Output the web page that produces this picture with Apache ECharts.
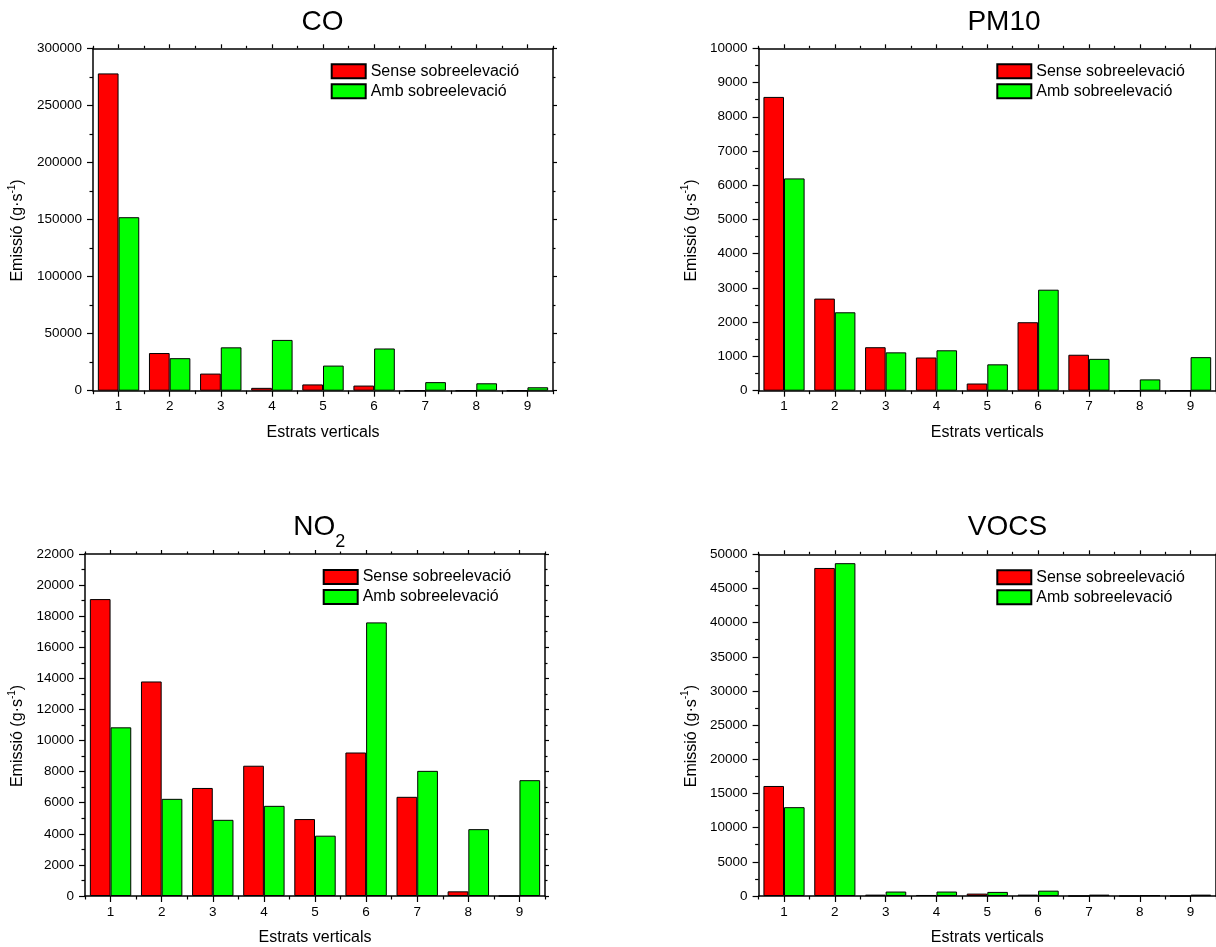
<!DOCTYPE html>
<html><head><meta charset="utf-8">
<script src="https://cdn.jsdelivr.net/npm/echarts@6/dist/echarts.min.js"></script>
<style>html,body{margin:0;padding:0;background:#fff}#c{width:1216px;height:947px}</style>
</head><body><div id="c"></div>
<script>
// ---- data ----
const categories = ['1', '2', '3', '4', '5', '6', '7', '8', '9'];
const seriesNames = ['Sense sobreelevació', 'Amb sobreelevació'];
const xAxisTitle = 'Estrats verticals';

const coSense   = [278000, 33000, 15000, 2500, 5500, 4500, 0, 0, 0];
const coAmb     = [152000, 28500, 38000, 44500, 22000, 37000, 7500, 6500, 3000];
const pm10Sense = [8580, 2690, 1270, 970, 210, 2000, 1050, 0, 0];
const pm10Amb   = [6200, 2290, 1120, 1180, 770, 2950, 930, 330, 980];
const no2Sense  = [19100, 13800, 6950, 8380, 4950, 9230, 6380, 300, 0];
const no2Amb    = [10850, 6250, 4900, 5800, 3880, 17600, 8050, 4300, 7450];
const vocsSense = [16100, 48000, 200, 150, 350, 200, 0, 0, 0];
const vocsAmb   = [13000, 48700, 650, 650, 600, 780, 200, 100, 200];

// y axis ranges [min, max, interval]
const coY   = [0, 300000, 50000];
const pm10Y = [0, 10000, 1000];
const no2Y  = [0, 22000, 2000];
const vocsY = [0, 50000, 5000];

// ---- layout / style ----
const FONT = '"Liberation Sans", Arial, sans-serif';
const BLACK = '#000';
const panels = [
  {title: 'CO',          sense: coSense,   amb: coAmb,   y: coY,   g: [93, 48.3, 460, 342.4],    tx: 322.5,  ty: 7,   nameGap: 64},
  {title: 'PM10',        sense: pm10Sense, amb: pm10Amb, y: pm10Y, g: [758.6, 48.3, 460, 342.4], tx: 1004,   ty: 7,   nameGap: 56},
  {title: '{n|NO}{s|2}', sense: no2Sense,  amb: no2Amb,  y: no2Y,  g: [85, 554, 460, 342.7],     tx: 319.3,  ty: 504, nameGap: 56, rich: true},
  {title: 'VOCS',        sense: vocsSense, amb: vocsAmb, y: vocsY, g: [758.6, 554.3, 460, 342.4], tx: 1007.5, ty: 512, nameGap: 56}
];

const option = {
  animation: false,
  backgroundColor: '#fff',
  textStyle: {fontFamily: FONT},
  title: [], grid: [], xAxis: [], yAxis: [], legend: [], series: []
};

const lineStyle = {color: BLACK, width: 1.5};
const tickStyle = {color: BLACK, width: 1.2};

panels.forEach((p, i) => {
  option.grid.push({left: p.g[0], top: p.g[1], width: p.g[2], height: p.g[3], containLabel: false});

  const t = {
    text: p.title, left: p.tx, top: p.ty, textAlign: 'center', padding: 0,
    textStyle: {fontFamily: FONT, fontSize: 28, fontWeight: 'normal', color: BLACK, lineHeight: 31}
  };
  if (p.rich) {
    t.textStyle.rich = {
      n: {fontFamily: FONT, fontSize: 28, lineHeight: 47, color: BLACK},
      s: {fontFamily: FONT, fontSize: 18, lineHeight: 18, verticalAlign: 'bottom', color: BLACK}
    };
  }
  option.title.push(t);

  const xb = option.xAxis.length;
  option.xAxis.push({
    gridIndex: i, type: 'category', data: categories, position: 'bottom',
    axisLine: {show: true, lineStyle},
    axisTick: {show: true, alignWithLabel: true, interval: 0, length: 6, lineStyle: tickStyle},
    axisLabel: {show: true, interval: 0, fontSize: 13.5, margin: 9, color: BLACK, fontFamily: FONT},
    splitLine: {show: false},
    name: xAxisTitle, nameLocation: 'middle', nameGap: 34,
    nameTextStyle: {fontSize: 16, color: BLACK, fontFamily: FONT}
  });
  option.xAxis.push({
    gridIndex: i, type: 'category', data: categories, position: 'bottom',
    axisLine: {show: false},
    axisTick: {show: true, alignWithLabel: false, interval: 0, length: 3.5, lineStyle: tickStyle},
    axisLabel: {show: false}, splitLine: {show: false}
  });
  option.xAxis.push({
    gridIndex: i, type: 'category', data: categories, position: 'top',
    axisLine: {show: true, lineStyle},
    axisTick: {show: true, alignWithLabel: true, interval: 0, length: 4, lineStyle: tickStyle},
    axisLabel: {show: false}, splitLine: {show: false}
  });
  option.xAxis.push({
    gridIndex: i, type: 'category', data: categories, position: 'top',
    axisLine: {show: false},
    axisTick: {show: true, alignWithLabel: false, interval: 0, length: 2.5, lineStyle: tickStyle},
    axisLabel: {show: false}, splitLine: {show: false}
  });

  const yb = option.yAxis.length;
  option.yAxis.push({
    gridIndex: i, type: 'value', position: 'left',
    min: p.y[0], max: p.y[1], interval: p.y[2],
    axisLine: {show: true, lineStyle},
    axisTick: {show: true, length: 6, lineStyle: tickStyle},
    minorTick: {show: true, splitNumber: 2, length: 3.5, lineStyle: tickStyle},
    splitLine: {show: false}, minorSplitLine: {show: false},
    axisLabel: {fontSize: 13.5, margin: 11, color: BLACK, fontFamily: FONT, formatter: v => String(v)},
    name: '{a|Emissió (g·s}{b|-1}{a|)}', nameLocation: 'middle', nameRotate: 90, nameGap: p.nameGap,
    nameTextStyle: {
      padding: [0, 22, 0, 0],
      rich: {
        a: {fontSize: 16, lineHeight: 22, color: BLACK, fontFamily: FONT},
        b: {fontSize: 10, lineHeight: 10, verticalAlign: 'top', color: BLACK, fontFamily: FONT}
      }
    }
  });
  option.yAxis.push({
    gridIndex: i, type: 'value', position: 'right',
    min: p.y[0], max: p.y[1], interval: p.y[2],
    axisLine: {show: true, lineStyle},
    axisTick: {show: true, length: 4, lineStyle: tickStyle},
    minorTick: {show: true, splitNumber: 2, length: 2.5, lineStyle: tickStyle},
    splitLine: {show: false}, minorSplitLine: {show: false},
    axisLabel: {show: false}
  });

  option.legend.push({
    orient: 'vertical', left: p.g[0] + 237.7, top: p.g[1] + 15,
    itemWidth: 34, itemHeight: 14, itemGap: 4, padding: 0, icon: 'rect',
    selectedMode: false,
    textStyle: {fontSize: 16, color: BLACK, fontFamily: FONT},
    data: seriesNames
  });

  const common = {type: 'bar', xAxisIndex: xb, yAxisIndex: yb, barGap: '0%', barCategoryGap: '19%'};
  option.series.push(Object.assign({}, common, {
    name: seriesNames[0], data: p.sense,
    itemStyle: {color: '#ff0000', borderColor: BLACK, borderWidth: 1}
  }));
  option.series.push(Object.assign({}, common, {
    name: seriesNames[1], data: p.amb,
    itemStyle: {color: '#00ff00', borderColor: BLACK, borderWidth: 1}
  }));
});

const chart = echarts.init(document.getElementById('c'), null, {renderer: 'canvas'});
chart.setOption(option);
</script>
</body></html>
